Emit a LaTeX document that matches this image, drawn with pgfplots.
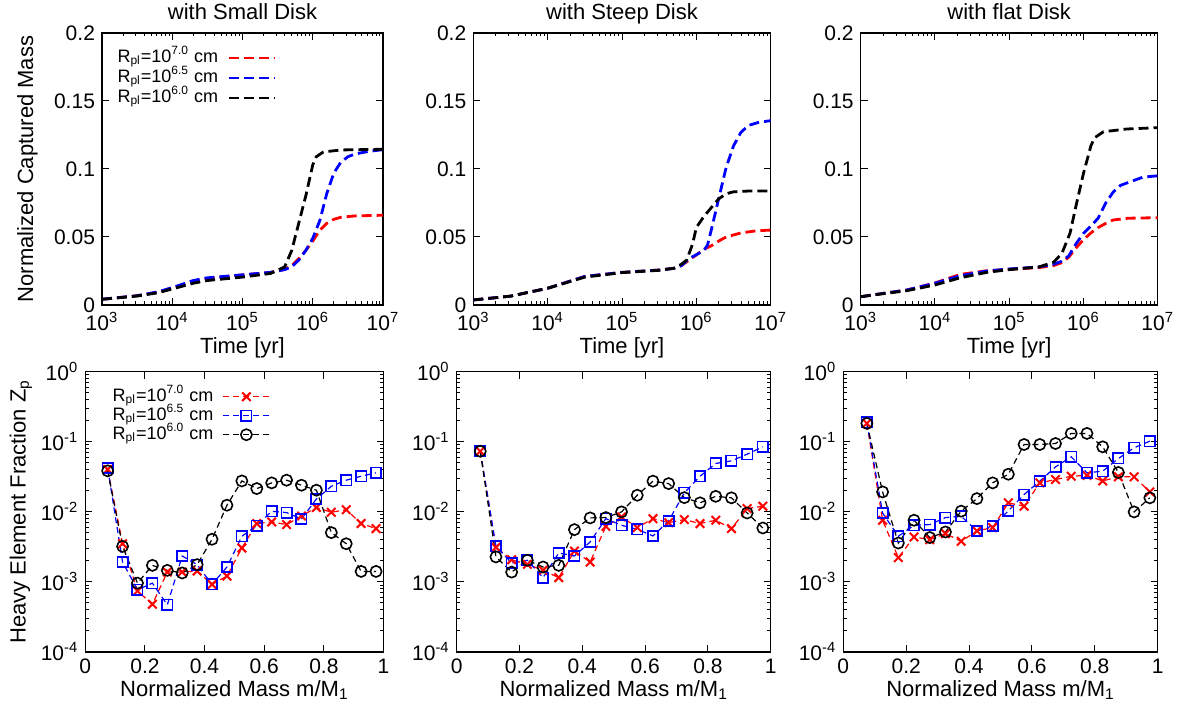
\documentclass[border=0pt]{standalone}
\usepackage{fontspec}
\setmainfont{Liberation Sans}
\usepackage{pgfplots}
\usepackage{pgfplotstable}
\pgfplotsset{compat=1.18}

\pgfplotstableread{
x r b k
0.075 0.040 0.0422 0.0383
0.125 0.0035 0.00192 0.00321
0.175 0.00074 0.00077 0.00096
0.225 0.00048 0.00096 0.00172
0.275 0.00138 0.00047 0.00146
0.325 0.00138 0.00234 0.00134
0.375 0.00143 0.00176 0.00176
0.425 0.00092 0.00092 0.00405
0.475 0.00121 0.00163 0.0124
0.525 0.00304 0.00447 0.0275
0.575 0.00678 0.00634 0.0214
0.625 0.00716 0.01016 0.0258
0.675 0.00656 0.00973 0.0282
0.725 0.0087 0.0079 0.0239
0.775 0.0115 0.0152 0.0203
0.825 0.00984 0.0231 0.00504
0.875 0.0107 0.0282 0.0035
0.925 0.0068 0.0321 0.00141
0.975 0.00575 0.0359 0.00141
}\tabA

\pgfplotstableread{
x r b k
0.075 0.073 0.073 0.073
0.125 0.0031 0.00321 0.00227
0.175 0.00207 0.00186 0.00138
0.225 0.00178 0.00203 0.00203
0.275 0.00146 0.00115 0.00163
0.325 0.00115 0.00258 0.00172
0.375 0.00275 0.00234 0.00556
0.425 0.00192 0.00371 0.00817
0.475 0.0062 0.00798 0.00826
0.525 0.00843 0.00641 0.00995
0.575 0.00595 0.00562 0.0172
0.625 0.00798 0.00452 0.0273
0.675 0.007 0.0074 0.0252
0.725 0.00773 0.0186 0.0159
0.775 0.00678 0.0321 0.0134
0.825 0.00757 0.0488 0.0166
0.875 0.00575 0.0532 0.0158
0.925 0.0111 0.0663 0.0096
0.975 0.012 0.0843 0.00587
}\tabB

\pgfplotstableread{
x r b k
0.075 0.182 0.188 0.182
0.125 0.00757 0.0096 0.0192
0.175 0.00222 0.00447 0.00358
0.225 0.00437 0.00641 0.00757
0.275 0.004 0.00656 0.00428
0.325 0.00488 0.00826 0.00515
0.375 0.00379 0.00863 0.0102
0.425 0.00532 0.00532 0.0154
0.475 0.00595 0.00628 0.0258
0.525 0.0134 0.0103 0.0343
0.575 0.012 0.0176 0.091
0.625 0.0258 0.0273 0.091
0.675 0.0288 0.0436 0.094
0.725 0.0321 0.0607 0.131
0.775 0.033 0.0359 0.131
0.825 0.0275 0.0379 0.0843
0.875 0.0315 0.0575 0.0363
0.925 0.0315 0.0817 0.00995
0.975 0.0192 0.1016 0.0158
}\tabC

\pgfplotsset{
  gp/.style={scale only axis, anchor=south west, tick align=inside,
    major tick length=3.5pt, minor tick length=1.75pt,
    axis line style={line width=0.6pt},
    every tick/.style={black, line width=0.5pt},
    tick label style={font=\fontsize{10.5}{12}\selectfont},
    label style={font=\fontsize{11}{13}\selectfont},
    title style={font=\fontsize{11}{13}\selectfont, at={(axis description cs:0.5,1.048)}, anchor=base, yshift=-6pt},
  },
  toprow/.style={gp, height=136pt, xmin=1e3, xmax=1e7, ymin=0, ymax=0.2,
    xtick={1e3,1e4,1e5,1e6,1e7},
    xticklabels={10\textsuperscript{3},10\textsuperscript{4},10\textsuperscript{5},10\textsuperscript{6},10\textsuperscript{7}},
    minor xtick={2e3,3e3,4e3,5e3,6e3,7e3,8e3,9e3,2e4,3e4,4e4,5e4,6e4,7e4,8e4,9e4,2e5,3e5,4e5,5e5,6e5,7e5,8e5,9e5,2e6,3e6,4e6,5e6,6e6,7e6,8e6,9e6},
    ytick={0,0.05,0.1,0.15,0.2}, yticklabels={0,0.05,0.1,0.15,0.2},
    xlabel={Time [yr]},
    xlabel style={at={(axis description cs:0.5,-0.1765)}, anchor=base},
  },
  botrow/.style={gp, height=140.25pt, xmin=0, xmax=1, ymin=1e-4, ymax=1,
    xtick={0,0.2,0.4,0.6,0.8,1}, xticklabels={0,0.2,0.4,0.6,0.8,1},
    ytick={1e-4,1e-3,1e-2,1e-1,1},
    yticklabels={10\textsuperscript{-4},10\textsuperscript{-3},10\textsuperscript{-2},10\textsuperscript{-1},10\textsuperscript{0}},
    minor ytick={2e-4,3e-4,4e-4,5e-4,6e-4,7e-4,8e-4,9e-4,2e-3,3e-3,4e-3,5e-3,6e-3,7e-3,8e-3,9e-3,2e-2,3e-2,4e-2,5e-2,6e-2,7e-2,8e-2,9e-2,0.2,0.3,0.4,0.5,0.6,0.7,0.8,0.9},
    xlabel={Normalized Mass m/M\textsubscript{1}},
    xlabel style={at={(axis description cs:0.5,-0.158)}, anchor=base},
  },
  tl/.style={line width=1.4pt, dash pattern=on 5pt off 2.5pt},
  bl/.style={line width=0.6pt, dash pattern=on 3pt off 2pt, mark options={solid, line width=0.8pt}},
  rx/.style={red, bl, mark=x, mark size=3pt, mark options={solid, line width=1pt}},
  bs/.style={blue, bl, mark=square, mark size=2.6pt},
  ko/.style={black, bl, mark=o, mark size=2.8pt},
}

\begin{document}
\begin{tikzpicture}
\useasboundingbox (0pt,0pt) rectangle (590pt,351pt);

% ---------- top row ----------
\begin{axis}[xmode=log, toprow, at={(51pt,198.5pt)}, width=140.5pt,
  title={with Small Disk}, ylabel={Normalized Captured Mass},
  ylabel style={at={(axis description cs:-0.265,0.5)}, anchor=center},
  legend style={at={(axis description cs:0.05,0.945)}, anchor=north west, draw=none, fill=none,
    inner sep=0pt, outer sep=0pt, font=\fontsize{9}{10}\selectfont, row sep=0pt, column sep=4pt,
    nodes={text height=6.5pt, text depth=2pt, inner sep=0.75pt}},
  legend plot pos=right, legend cell align=left,
  legend image code/.code={\draw[#1] (0pt,0pt) -- (23pt,0pt);}]
\addplot[red, tl] coordinates {(1e3,0.0042) (3162,0.0068) (6310,0.0095) (1e4,0.0125) (19953,0.0172) (31623,0.0195) (1e5,0.0221) (251189,0.024) (398107,0.0262) (501187,0.029) (630957,0.034) (794328,0.040) (1e6,0.047) (1258925,0.055) (1584893,0.060) (1995262,0.063) (2511886,0.0645) (3981072,0.0655) (1e7,0.066)};
\addlegendentry{R\textsubscript{pl}=10\textsuperscript{7.0} cm}
\addplot[blue, tl] coordinates {(1e3,0.0042) (3162,0.0068) (6310,0.0097) (1e4,0.0128) (19953,0.018) (31623,0.020) (1e5,0.0222) (251189,0.024) (398107,0.026) (501187,0.028) (630957,0.033) (794328,0.040) (1e6,0.049) (1258925,0.062) (1584893,0.082) (1995262,0.097) (2511886,0.105) (3162278,0.109) (3981072,0.111) (6309573,0.113) (1e7,0.1142)};
\addlegendentry{R\textsubscript{pl}=10\textsuperscript{6.5} cm}
\addplot[black, tl] coordinates {(1e3,0.0042) (3162,0.0066) (6310,0.009) (1e4,0.0118) (19953,0.016) (31623,0.018) (1e5,0.0205) (251189,0.0232) (398107,0.028) (501187,0.040) (630957,0.060) (794328,0.080) (1e6,0.103) (1122018,0.109) (1412538,0.1125) (2511886,0.114) (1e7,0.1145)};
\addlegendentry{R\textsubscript{pl}=10\textsuperscript{6.0} cm}
\end{axis}

\begin{axis}[xmode=log, toprow, at={(236.65pt,198.5pt)}, width=148.7pt, title={with Steep Disk}]
\addplot[red, tl] coordinates {(1e3,0.0037) (3162,0.0065) (1e4,0.0123) (31623,0.021) (1e5,0.024) (316228,0.0257) (501187,0.027) (630957,0.029) (794328,0.033) (1e6,0.0368) (1258925,0.041) (1584893,0.0435) (1995262,0.047) (2511886,0.050) (3981072,0.053) (6309573,0.0545) (1e7,0.0551)};
\addplot[blue, tl] coordinates {(1e3,0.0037) (3162,0.0065) (1e4,0.0123) (31623,0.021) (1e5,0.024) (316228,0.0257) (501187,0.027) (630957,0.029) (794328,0.034) (1e6,0.037) (1258925,0.040) (1412538,0.044) (1584893,0.055) (1995262,0.078) (2511886,0.101) (3162278,0.117) (3981072,0.127) (5011872,0.132) (7079458,0.1345) (1e7,0.1355)};
\addplot[black, tl] coordinates {(1e3,0.0037) (3162,0.0065) (1e4,0.0123) (31623,0.0205) (1e5,0.0238) (316228,0.0255) (501187,0.027) (630957,0.030) (741310,0.033) (891251,0.045) (1e6,0.057) (1258925,0.065) (1584893,0.0715) (1995262,0.078) (2511886,0.0818) (3162278,0.0832) (5011872,0.0838) (1e7,0.0838)};
\end{axis}

\begin{axis}[xmode=log, toprow, at={(430.35pt,198.5pt)}, width=148.5pt, title={with flat Disk}]
\addplot[red, tl] coordinates {(1e3,0.0061) (1995,0.0085) (4169,0.011) (1e4,0.0162) (21878,0.0225) (50119,0.0252) (1e5,0.0262) (251189,0.0275) (398107,0.029) (501187,0.031) (630957,0.035) (794328,0.042) (1e6,0.048) (1258925,0.053) (1584893,0.057) (1995262,0.060) (2511886,0.0625) (3981072,0.0638) (1e7,0.0642)};
\addplot[blue, tl] coordinates {(1e3,0.0061) (1995,0.0085) (4169,0.011) (1e4,0.016) (21878,0.0215) (50119,0.025) (1e5,0.0265) (251189,0.028) (398107,0.030) (501187,0.032) (630957,0.036) (794328,0.045) (1e6,0.0527) (1258925,0.058) (1584893,0.064) (1995262,0.075) (2511886,0.083) (3162278,0.088) (3981072,0.090) (6309573,0.094) (1e7,0.095)};
\addplot[black, tl] coordinates {(1e3,0.0061) (1995,0.0083) (4169,0.0105) (1e4,0.0147) (21878,0.020) (50119,0.024) (1e5,0.026) (251189,0.028) (398107,0.0315) (512861,0.038) (660693,0.053) (794328,0.073) (1e6,0.0968) (1258925,0.117) (1412538,0.123) (1862087,0.1274) (3801894,0.1294) (1e7,0.1304)};
\end{axis}

% ---------- bottom row ----------
\begin{axis}[ymode=log, botrow, at={(42.65pt,25pt)}, width=149.1pt,
  ylabel={Heavy Element Fraction Z\textsubscript{p}},
  ylabel style={at={(axis description cs:-0.216,0.5)}, anchor=center},
  legend style={at={(axis description cs:0.087,0.944)}, anchor=north west, draw=none, fill=none,
    inner sep=0pt, outer sep=0pt, font=\fontsize{9}{10}\selectfont, row sep=0pt, column sep=4pt,
    nodes={text height=6.3pt, text depth=1.7pt, inner sep=0.75pt}},
  legend plot pos=right, legend cell align=left,
  legend image code/.code={\draw[mark repeat=2, mark phase=2, #1] plot coordinates {(0pt,0pt) (11.5pt,0pt) (23pt,0pt)};}]
\addplot[rx] table[x=x, y=r] {\tabA};
\addlegendentry{R\textsubscript{pl}=10\textsuperscript{7.0} cm}
\addplot[bs] table[x=x, y=b] {\tabA};
\addlegendentry{R\textsubscript{pl}=10\textsuperscript{6.5} cm}
\addplot[ko] table[x=x, y=k] {\tabA};
\addlegendentry{R\textsubscript{pl}=10\textsuperscript{6.0} cm}
\end{axis}

\begin{axis}[ymode=log, botrow, at={(228.35pt,25pt)}, width=157pt]
\addplot[rx] table[x=x, y=r] {\tabB};
\addplot[bs] table[x=x, y=b] {\tabB};
\addplot[ko] table[x=x, y=k] {\tabB};
\end{axis}

\begin{axis}[ymode=log, botrow, at={(421.65pt,25pt)}, width=157.2pt]
\addplot[rx] table[x=x, y=r] {\tabC};
\addplot[bs] table[x=x, y=b] {\tabC};
\addplot[ko] table[x=x, y=k] {\tabC};
\end{axis}
\end{tikzpicture}
\end{document}
